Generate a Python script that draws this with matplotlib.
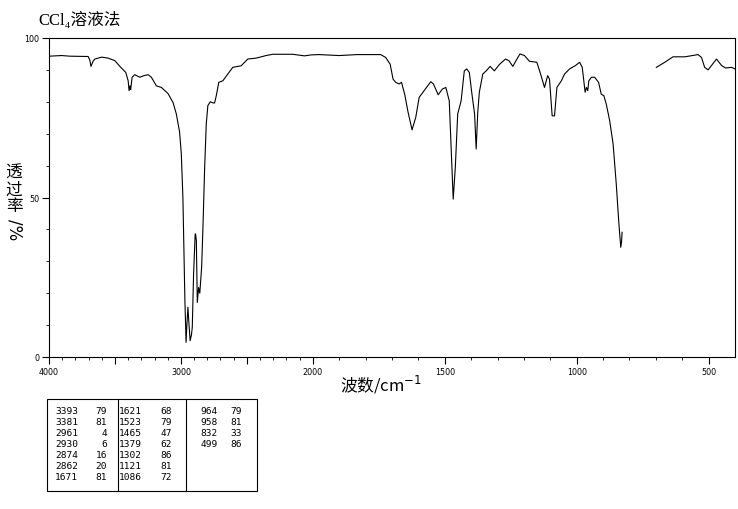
import matplotlib
matplotlib.use("Agg")
import matplotlib.pyplot as plt
import numpy as np
from matplotlib.ticker import FixedLocator
from matplotlib.patches import Rectangle
from matplotlib.lines import Line2D

plt.rcParams['font.family'] = ['Noto Sans CJK SC', 'DejaVu Sans']

# IR spectrum (cm-1, %T); NaN = no data between 820 and 700
wavenumber = [4000, 3904, 3841, 3703, 3690, 3682, 3665, 3652, 3602, 3552, 3501,
              3456, 3418, 3400, 3393, 3386, 3381, 3370, 3350, 3312, 3280, 3249,
              3224, 3186, 3148, 3098, 3060, 3035, 3010, 2997, 2985, 2977, 2970,
              2964, 2961, 2955, 2947, 2939, 2930, 2920, 2914, 2904, 2892, 2889,
              2883, 2876, 2870, 2866, 2860, 2857, 2843, 2833, 2820, 2808, 2796,
              2778, 2760, 2745, 2732, 2713, 2682, 2645, 2607, 2543, 2493, 2430,
              2354, 2304, 2153, 2064, 2013, 1977, 1901, 1832, 1743, 1724, 1707,
              1696, 1686, 1673, 1664, 1652, 1639, 1624, 1610, 1597, 1578, 1553,
              1543, 1525, 1509, 1496, 1483, 1477, 1468, 1460, 1451, 1438, 1426,
              1417, 1407, 1397, 1387, 1381, 1375, 1369, 1356, 1343, 1328, 1312,
              1293, 1270, 1257, 1242, 1230, 1215, 1198, 1179, 1151, 1135, 1122,
              1110, 1103, 1093, 1084, 1075, 1058, 1046, 1027, 1004, 989, 979,
              968, 963, 958, 954, 944, 932, 917, 907, 897, 888, 875, 862, 850,
              840, 833, 830, 828, 760,
              698, 666, 635, 590, 540, 527, 515, 502, 489, 470, 451, 436, 413, 400]
transmittance = [94.3, 94.5, 94.3, 94.2, 93.0, 91.1, 92.8, 93.4, 94.0, 93.7, 92.9,
                 90.8, 89.2, 86.6, 83.5, 85.0, 83.8, 87.7, 88.5, 87.7, 88.2, 88.5,
                 87.7, 85.0, 84.5, 82.6, 79.8, 76.2, 70.5, 63.6, 50.0, 32.0, 18.0,
                 8.8, 4.6, 10.0, 15.6, 10.3, 5.1, 7.0, 9.3, 26.0, 38.5, 38.6,
                 36.5, 17.1, 20.0, 21.8, 20.5, 20.0, 28.1, 40.7, 59.5, 73.0, 78.8,
                 80.0, 79.7, 79.6, 81.9, 86.1, 86.6, 88.7, 90.8, 91.3, 93.4, 93.7,
                 94.5, 94.9, 94.9, 94.4, 94.7, 94.8, 94.5, 94.8, 94.8, 93.9, 91.8,
                 87.1, 86.1, 85.6, 86.1, 82.4, 76.7, 71.2, 75.1, 81.4, 83.5, 86.3,
                 85.6, 82.2, 84.0, 84.5, 80.3, 67.8, 49.5, 59.5, 76.2, 80.3, 89.7,
                 90.3, 89.2, 82.4, 76.2, 65.2, 76.7, 83.0, 88.7, 89.7, 91.1, 89.7,
                 91.7, 93.4, 92.9, 91.1, 92.9, 95.0, 94.5, 92.7, 92.4, 88.2, 84.5,
                 88.2, 87.1, 75.6, 75.6, 84.5, 86.6, 88.7, 90.3, 91.4, 92.4, 90.8,
                 83.0, 84.5, 83.5, 86.6, 87.7, 87.7, 86.1, 82.4, 81.9, 79.3, 74.1,
                 66.8, 54.2, 41.7, 34.4, 36.0, 39.1, np.nan,
                 90.8, 92.4, 94.1, 94.1, 94.8, 93.9, 90.8, 90.0, 91.4, 93.4, 91.4,
                 90.6, 90.8, 90.3]

# peak table
peak_wn = ['3393', '3381', '2961', '2930', '2874', '2862', '1671',
           '1621', '1523', '1465', '1379', '1302', '1121', '1086',
           '964', '958', '832', '499']
peak_t = ['79', '81', '4', '6', '16', '20', '81',
          '68', '79', '47', '62', '86', '81', '72',
          '79', '81', '33', '86']

xticks = [4000, 3500, 3000, 2500, 2000, 1500, 1000, 500]
xticklabels = ['4000', '', '3000', '', '2000', '1500', '1000', '500']


# spectrometer style axis: 4000-2000 at half the scale of 2000-400
def fwd(x):
    x = np.asarray(x, dtype=float)
    return np.where(x > 2000, 2000 + (x - 2000) / 2, x)


def inv(u):
    u = np.asarray(u, dtype=float)
    return np.where(u > 2000, 2000 + (u - 2000) * 2, u)


W, H = 738, 510


def fx(px):
    return px / W


def fy(py):
    return 1 - py / H


fig = plt.figure(figsize=(W / 100, H / 100), dpi=100)
ax = fig.add_axes([fx(49), fy(358), (735 - 49) / W, (358 - 39) / H])
ax.set_xscale('function', functions=(fwd, inv))
ax.plot(wavenumber, transmittance, color='black', lw=0.8)
ax.set_xlim(4000, 400)
ax.set_ylim(0, 100)

ax.xaxis.set_major_locator(FixedLocator(xticks))
ax.xaxis.set_minor_locator(FixedLocator(np.arange(500, 4000, 100)))
ax.set_xticklabels(xticklabels, family='DejaVu Sans')
ax.yaxis.set_major_locator(FixedLocator([0, 50, 100]))
ax.yaxis.set_minor_locator(FixedLocator(np.arange(10, 100, 10)))
ax.set_yticklabels(['0', '50', '100'], family='DejaVu Sans')
ax.tick_params(which='major', length=5, width=0.8, labelsize=5.8, pad=2)
ax.tick_params(which='minor', length=2.5, width=0.6)
for s in ax.spines.values():
    s.set_linewidth(0.8)

# title and axis labels
fig.text(fx(38), fy(20), 'CCl₄溶液法', fontsize=12, va='center', ha='left',
         family=['Liberation Serif', 'Noto Sans CJK SC', 'DejaVu Sans'])
fig.text(fx(381), fy(385), '波数/cm$^{-1}$', fontsize=12, va='center', ha='center')
fig.text(fx(14), fy(190), '透\n过\n率', fontsize=12, va='center', ha='center',
         linespacing=0.98)
fig.text(fx(14), fy(230), '/%', fontsize=12, va='center', ha='center',
         rotation=-90, family='DejaVu Sans')

# peak table below the chart
fig.add_artist(Rectangle((fx(47), fy(492)), (257 - 47) / W, (492 - 400) / H,
                         transform=fig.transFigure, fill=False, lw=0.8,
                         color='black'))
for xd in [118, 186]:
    fig.add_artist(Line2D([fx(xd), fx(xd)], [fy(400), fy(492)],
                          transform=fig.transFigure, lw=0.8, color='black'))
wn_right = [78, 142, 218]
t_right = [107, 172, 242]
for i in range(len(peak_wn)):
    col, row = divmod(i, 7)
    y = fy(411 + row * 11.1)
    fig.text(fx(wn_right[col]), y, peak_wn[i], fontsize=6.8, ha='right',
             va='center', family='DejaVu Sans Mono')
    fig.text(fx(t_right[col]), y, peak_t[i], fontsize=6.8, ha='right',
             va='center', family='DejaVu Sans Mono')

fig.savefig('out.png', dpi=100)
